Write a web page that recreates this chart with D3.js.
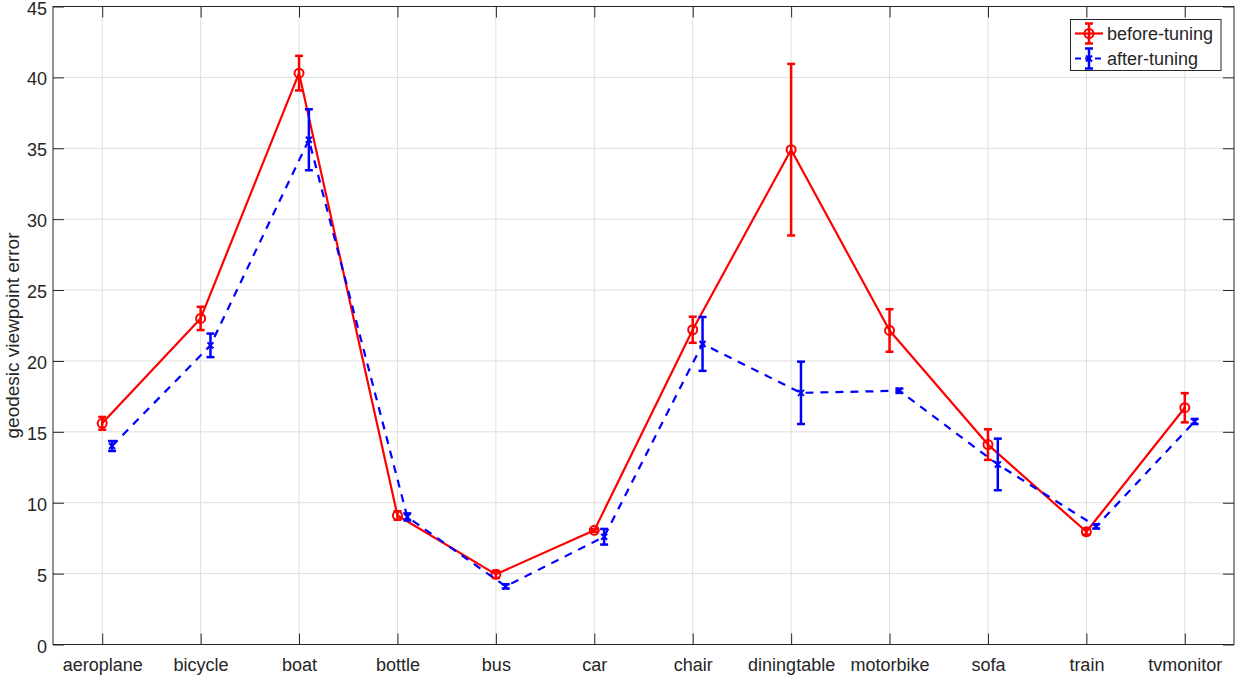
<!DOCTYPE html>
<html>
<head>
<meta charset="utf-8">
<script src="https://cdn.jsdelivr.net/npm/d3@7"></script>
<style>
  html, body { margin: 0; padding: 0; background: #fff; }
  svg { display: block; }
  text { font-family: "Liberation Sans", Arial, Helvetica, sans-serif; fill: #262626; }
</style>
</head>
<body>
<svg id="chart" width="1235" height="675"></svg>
<script>
// ---- data ----
const categories = ["aeroplane","bicycle","boat","bottle","bus","car","chair","diningtable","motorbike","sofa","train","tvmonitor"];
const beforeMean = [15.6, 23.0, 40.3, 9.1, 4.95, 8.05, 22.2, 34.9, 22.15, 14.1, 7.95, 16.7];
const beforeErr  = [0.45, 0.82, 1.22, 0.3, 0.25, 0.1, 0.92, 6.05, 1.5, 1.08, 0.2, 1.03];
const afterMean  = [14.0, 21.1, 35.6, 9.0, 4.1, 7.6, 21.2, 17.75, 17.9, 12.7, 8.33, 15.73];
const afterErr   = [0.35, 0.83, 2.15, 0.25, 0.15, 0.55, 1.9, 2.2, 0.15, 1.82, 0.15, 0.18];
const yTicks = [0,5,10,15,20,25,30,35,40,45];
const seriesNames = ["before-tuning","after-tuning"];
const afterShift = 0.1; // horizontal shift of the second series (category units)

// ---- layout ----
const svg = d3.select("#chart");
const L = 53, R = 1234, T = 6.5, B = 644.5;
const x = d3.scaleLinear().domain([0.5, 12.5]).range([L, R]);
const y = d3.scaleLinear().domain([0, 45]).range([B, T]);
const tickLen = 11;
const axisColor = "#262626";
const gridColor = "#dfdfdf";

// grid
const g = svg.append("g");
g.selectAll("line.vg").data(categories).enter().append("line")
  .attr("x1", (d,i)=>x(i+1)).attr("x2", (d,i)=>x(i+1))
  .attr("y1", T).attr("y2", B)
  .attr("stroke", gridColor).attr("stroke-width", 1);
g.selectAll("line.hg").data(yTicks).enter().append("line")
  .attr("x1", L).attr("x2", R)
  .attr("y1", d=>y(d)).attr("y2", d=>y(d))
  .attr("stroke", gridColor).attr("stroke-width", 1);

// axes (inward ticks)
const xAxisB = d3.axisBottom(x).tickValues(d3.range(1, 13)).tickSize(-tickLen).tickSizeOuter(0)
  .tickFormat(d => categories[d-1]).tickPadding(14);
const xAxisT = d3.axisTop(x).tickValues(d3.range(1, 13)).tickSize(-tickLen).tickSizeOuter(0).tickFormat("");
const yAxisL = d3.axisLeft(y).tickValues(yTicks).tickSize(-tickLen).tickSizeOuter(0).tickPadding(6);
const yAxisR = d3.axisRight(y).tickValues(yTicks).tickSize(-tickLen).tickSizeOuter(0).tickFormat("");

function styleAxis(sel) {
  sel.select(".domain").remove();
  sel.selectAll(".tick line").attr("stroke", axisColor).attr("stroke-width", 1);
  sel.selectAll(".tick text").attr("fill", axisColor).style("font-size", "18px")
     .style("font-family", "'Liberation Sans', Arial, sans-serif");
}
svg.append("g").attr("transform", `translate(0,${B})`).call(xAxisB).call(styleAxis);
svg.append("g").attr("transform", `translate(0,${T})`).call(xAxisT).call(styleAxis);
svg.append("g").attr("transform", `translate(${L},0)`).call(yAxisL).call(styleAxis)
  .selectAll(".tick text").attr("dy", "0.42em");
svg.append("g").attr("transform", `translate(${R},0)`).call(yAxisR).call(styleAxis);

// box
svg.append("rect").attr("x", L).attr("y", T).attr("width", R-L).attr("height", B-T)
  .attr("fill", "none").attr("stroke", axisColor).attr("stroke-width", 1);

// y label
svg.append("text")
  .attr("transform", `translate(18.5,${(T+B)/2 + 10}) rotate(-90)`)
  .attr("text-anchor", "middle")
  .style("font-size", "19px")
  .text("geodesic viewpoint error");

// ---- series ----
const capHalf = 4;
function drawSeries(means, errs, shift, color, dash, marker) {
  const grp = svg.append("g");
  const pts = means.map((m, i) => ({xv: i + 1 + shift, m, e: errs[i]}));
  const line = d3.line().x(d => x(d.xv)).y(d => y(d.m));
  grp.append("path").datum(pts).attr("d", line)
    .attr("fill", "none").attr("stroke", color).attr("stroke-width", 2.2)
    .attr("stroke-dasharray", dash).attr("stroke-linejoin", "round");
  // error bars
  const eb = grp.selectAll("g.eb").data(pts).enter().append("g");
  eb.append("line")
    .attr("x1", d => x(d.xv)).attr("x2", d => x(d.xv))
    .attr("y1", d => y(d.m - d.e)).attr("y2", d => y(d.m + d.e))
    .attr("stroke", color).attr("stroke-width", 2.5);
  eb.append("line")
    .attr("x1", d => x(d.xv) - capHalf).attr("x2", d => x(d.xv) + capHalf)
    .attr("y1", d => y(d.m + d.e)).attr("y2", d => y(d.m + d.e))
    .attr("stroke", color).attr("stroke-width", 2.5);
  eb.append("line")
    .attr("x1", d => x(d.xv) - capHalf).attr("x2", d => x(d.xv) + capHalf)
    .attr("y1", d => y(d.m - d.e)).attr("y2", d => y(d.m - d.e))
    .attr("stroke", color).attr("stroke-width", 2.5);
  // markers
  if (marker === "o") {
    eb.append("circle").attr("cx", d => x(d.xv)).attr("cy", d => y(d.m)).attr("r", 4.5)
      .attr("fill", "none").attr("stroke", color).attr("stroke-width", 2);
  } else {
    eb.append("path")
      .attr("d", d => { const cx = x(d.xv), cy = y(d.m), s = 3;
        return `M${cx-s},${cy-s}L${cx+s},${cy+s}M${cx-s},${cy+s}L${cx+s},${cy-s}`; })
      .attr("stroke", color).attr("stroke-width", 2);
  }
}
drawSeries(beforeMean, beforeErr, 0, "#ff0000", null, "o");
drawSeries(afterMean, afterErr, afterShift, "#0000ff", "8,7", "x");

// ---- legend ----
const lg = svg.append("g");
const lx = 1070.5, ly = 19.5, lw = 150.5, lh = 51;
lg.append("rect").attr("x", lx).attr("y", ly).attr("width", lw).attr("height", lh)
  .attr("fill", "#fff").attr("stroke", axisColor).attr("stroke-width", 1);
const legendItems = [
  {name: seriesNames[0], color: "#ff0000", dash: null, marker: "o", cy: 33.5},
  {name: seriesNames[1], color: "#0000ff", dash: "6,4", marker: "x", cy: 58.5}
];
legendItems.forEach(it => {
  const x0 = 1075, x1 = 1103, xm = 1089;
  lg.append("line").attr("x1", x0).attr("x2", x1).attr("y1", it.cy).attr("y2", it.cy)
    .attr("stroke", it.color).attr("stroke-width", 2.2).attr("stroke-dasharray", it.dash);
  lg.append("line").attr("x1", xm).attr("x2", xm).attr("y1", it.cy - 10).attr("y2", it.cy + 10)
    .attr("stroke", it.color).attr("stroke-width", 2.5);
  [it.cy - 10, it.cy + 10].forEach(yy => lg.append("line")
    .attr("x1", xm - capHalf).attr("x2", xm + capHalf).attr("y1", yy).attr("y2", yy)
    .attr("stroke", it.color).attr("stroke-width", 2.5));
  if (it.marker === "o") {
    lg.append("circle").attr("cx", xm).attr("cy", it.cy).attr("r", 4.5)
      .attr("fill", "none").attr("stroke", it.color).attr("stroke-width", 2);
  } else {
    const s = 3;
    lg.append("path").attr("d", `M${xm-s},${it.cy-s}L${xm+s},${it.cy+s}M${xm-s},${it.cy+s}L${xm+s},${it.cy-s}`)
      .attr("stroke", it.color).attr("stroke-width", 2);
  }
  lg.append("text").attr("x", 1107).attr("y", it.cy).attr("dy", "0.35em")
    .style("font-size", "18px").text(it.name);
});
</script>
</body>
</html>
